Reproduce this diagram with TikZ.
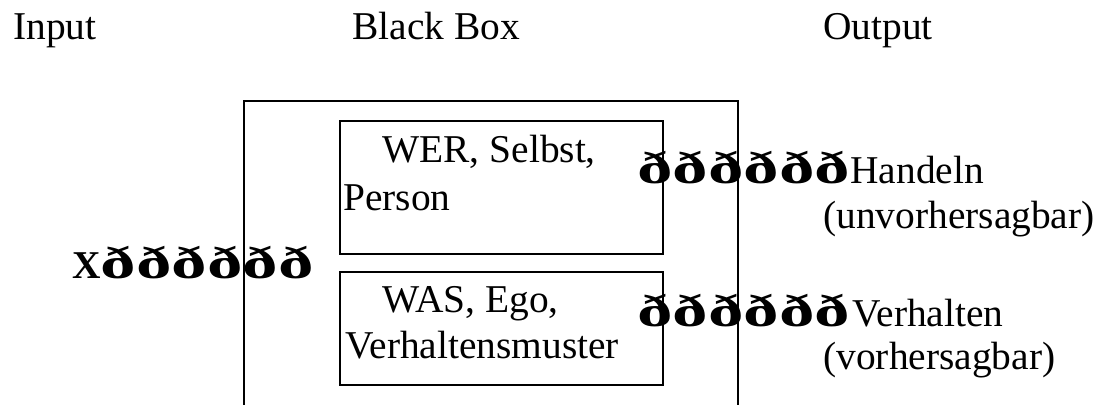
\documentclass[tikz,border=0pt]{standalone}
\usepackage{fontspec}
\setmainfont{Liberation Serif}
\usepackage{graphicx}
\newcommand\gly{\scalebox{1.8}[1.15]{\bfseries ð}}
\newcommand\glyrow{\gly\gly\gly\gly\gly\gly}
\begin{document}
\begin{tikzpicture}[x=0.5pt,y=-0.5pt,
  lbl/.style={inner sep=0pt,anchor=base west,font=\fontsize{19.7}{23.6}\selectfont},
  inbox/.style={draw,line width=1.1pt,inner sep=0pt},
  frame/.style={line width=1pt}]
\useasboundingbox (0,0) rectangle (1103,404);
% headers
\node[lbl] (in) at (13,39) {Input};
\node[lbl] (bb) at (352,39) {Black Box};
\node[lbl] (out) at (823,39) {Output};
% outer black box (open at bottom)
\coordinate (obl) at (244,406);
\coordinate (obr) at (738,406);
\draw[frame] (obl) |- (491,101) -| (obr);
% inner boxes
\node[inbox,minimum width=323*0.5pt,minimum height=133*0.5pt,anchor=north west] (wer) at (339,120) {};
\node[inbox,minimum width=323*0.5pt,minimum height=113*0.5pt,anchor=north west] (was) at (339,271) {};
% box texts
\node[lbl] (t1) at (382,162) {WER, Selbst,};
\node[lbl] (t2) at (343,210) {Person};
\node[lbl] (t3) at (382,312) {WAS, Ego,};
\node[lbl] (t4) at (345,358) {Verhaltensmuster};
% input arrows
\node[lbl] (x) at (72,278) {\bfseries X\glyrow};
% output arrows
\node[lbl] (a1) at (637,183) {\glyrow};
\node[lbl] (h1) at (850,183) {Handeln};
\node[lbl] (h2) at (823,228) {(unvorhersagbar)};
\node[lbl] (a2) at (637,326) {\glyrow};
\node[lbl] (v1) at (852,326) {Verhalten};
\node[lbl] (v2) at (823,369) {(vorhersagbar)};
\end{tikzpicture}
\end{document}
